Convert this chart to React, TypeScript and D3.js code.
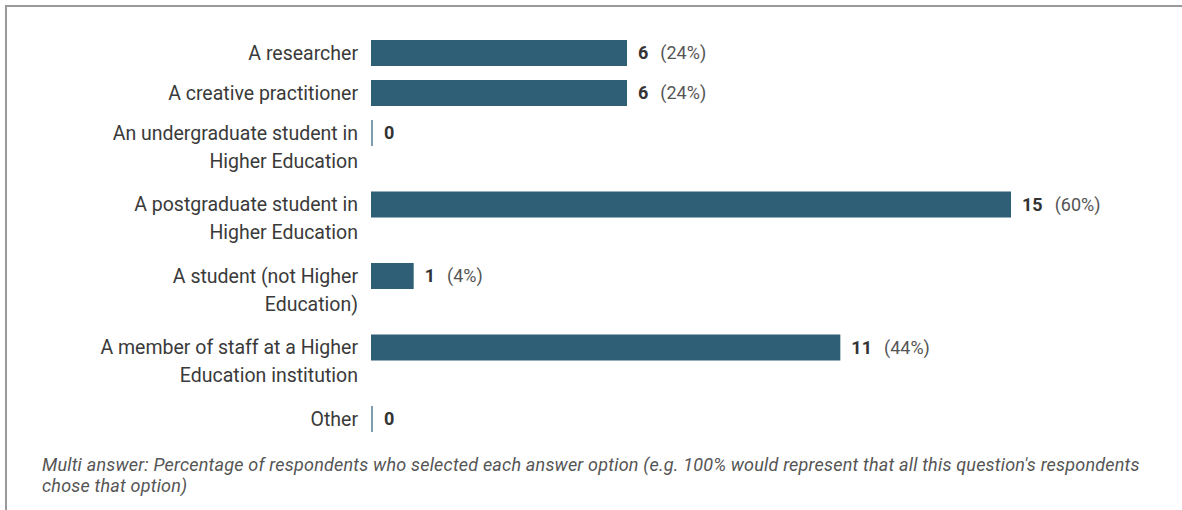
import * as d3 from "d3";

const categories: string[][] = [
  ["A researcher"],
  ["A creative practitioner"],
  ["An undergraduate student in", "Higher Education"],
  ["A postgraduate student in", "Higher Education"],
  ["A student (not Higher", "Education)"],
  ["A member of staff at a Higher", "Education institution"],
  ["Other"],
];
const counts = [6, 6, 0, 15, 1, 11, 0];
const percents = ["24%", "24%", "", "60%", "4%", "44%", ""];
const footnote = [
  "Multi answer: Percentage of respondents who selected each answer option (e.g. 100% would represent that all this question's respondents",
  "chose that option)",
];

const W = 1182;
const H = 510;
const barX = 371;
const barH = 26;
const lineH = 28;
const font = "Roboto, 'Noto Sans', sans-serif";

const App = () => {
  const x = d3.scaleLinear().domain([0, d3.max(counts) as number]).range([barX, 1011]);

  // row centres: single-line rows step 40, wrapped rows take extra room
  const centers: number[] = [];
  let y = 53;
  categories.forEach((lines) => {
    centers.push(y);
    y += 40 + (lines.length - 1) * 31.5;
  });

  return (
    <svg
      width={W}
      height={H}
      style={{ position: "absolute", left: 0, top: 0, background: "#fff" }}
      fontFamily={font}
    >
      <rect x={6} y={6} width={W + 10} height={H + 10} fill="#fff" stroke="#9a9a9a" strokeWidth={2} />
      {categories.map((lines, i) => {
        const cy = centers[i];
        const v = counts[i];
        const w = x(v) - barX;
        const end = v > 0 ? x(v) : barX + 2;
        return (
          <g key={i}>
            {lines.map((l, j) => (
              <text
                key={j}
                x={358}
                y={cy + j * lineH}
                dy="0.35em"
                textAnchor="end"
                fontSize={19.5}
                fill="#3a3a3a"
              >
                {l}
              </text>
            ))}
            {v > 0 ? (
              <rect x={barX} y={cy - barH / 2} width={w} height={barH} fill="#2e5f77" />
            ) : (
              <rect x={barX} y={cy - barH / 2} width={2} height={barH} fill="#7d9cad" />
            )}
            <text x={end + 11} y={cy} dy="0.35em" fontSize={18} fill="#333">
              <tspan fontWeight="bold">{v}</tspan>
              {percents[i] ? (
                <tspan fill="#555" dx={12}>{`(${percents[i]})`}</tspan>
              ) : null}
            </text>
          </g>
        );
      })}
      {footnote.map((t, i) => (
        <text
          key={i}
          x={42}
          y={465 + i * 21}
          dy="0.35em"
          fontSize={18}
          letterSpacing={0.2}
          fontStyle="italic"
          fill="#555"
        >
          {t}
        </text>
      ))}
    </svg>
  );
};

export default App;
